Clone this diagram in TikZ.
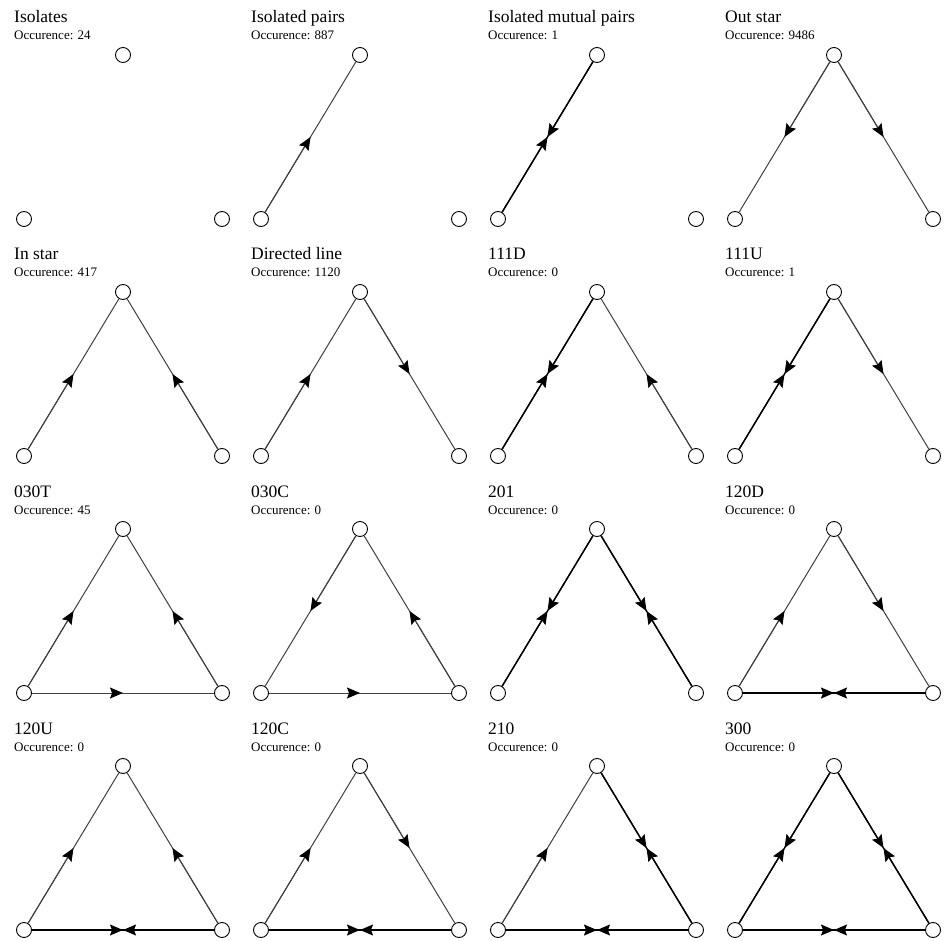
\documentclass[tikz,border=0pt]{standalone}
\usepackage{fontspec}
\setmainfont{Liberation Serif}
\usepackage{tikz}
\usetikzlibrary{calc}
\usetikzlibrary{arrows.meta}

\tikzset{
	vertex/.style={circle, draw, fill=white, line width=0.9pt, minimum size=15pt, inner sep=0pt},
	edgeline/.style={draw=black!75, line width=1pt},
	mutualline/.style={draw=black, line width=1.3pt},
	tip/.style={-{Stealth[length=13pt, width=11pt, inset=2pt, black]}},
	paneltitle/.style={anchor=base west, inner sep=0pt, font=\fontsize{17.5}{20}\selectfont},
	panelcount/.style={anchor=base west, inner sep=0pt, font=\fontsize{13}{15}\selectfont}
}

% one triad: prefix, x shift, y shift, title, occurence
\newcommand{\triad}[5]{%
	\begin{scope}[shift={(#2,#3)}, name prefix=#1-]
		\node[vertex] (T) at (123,-55) {};
		\node[vertex] (L) at (24,-219) {};
		\node[vertex] (R) at (222,-219) {};
		\node[paneltitle] (name) at (14,-23) {#4};
		\node[panelcount] (occ) at (14,-40) {Occurence: #5};
	\end{scope}}

\newcommand{\oneway}[2]{%
	\draw[edgeline] (#1) -- (#2);
	\draw[edgeline, tip] (#1) -- ($(#1)!0.5!(#2)$);}

\newcommand{\mutual}[2]{%
	\draw[mutualline] (#1) -- (#2);
	\draw[mutualline, tip] (#1) -- ($(#1)!0.5!(#2)$);
	\draw[mutualline, tip] (#2) -- ($(#1)!0.5!(#2)$);}

\begin{document}
\begin{tikzpicture}[x=1pt, y=1pt]
	\useasboundingbox (0,0) rectangle (951,-941);

	\triad{p1}{0}{0}{Isolates}{24}
	\triad{p2}{237}{0}{Isolated pairs}{887}
	\triad{p3}{474}{0}{Isolated mutual pairs}{1}
	\triad{p4}{711}{0}{Out star}{9486}

	\triad{p5}{0}{-237}{In star}{417}
	\triad{p6}{237}{-237}{Directed line}{1120}
	\triad{p7}{474}{-237}{111D}{0}
	\triad{p8}{711}{-237}{111U}{1}

	\triad{p9}{0}{-474}{030T}{45}
	\triad{p10}{237}{-474}{030C}{0}
	\triad{p11}{474}{-474}{201}{0}
	\triad{p12}{711}{-474}{120D}{0}

	\triad{p13}{0}{-711}{120U}{0}
	\triad{p14}{237}{-711}{120C}{0}
	\triad{p15}{474}{-711}{210}{0}
	\triad{p16}{711}{-711}{300}{0}

	% row 1
	\oneway{p2-L}{p2-T}
	\mutual{p3-L}{p3-T}
	\oneway{p4-T}{p4-L}
	\oneway{p4-T}{p4-R}

	% row 2
	\oneway{p5-L}{p5-T}
	\oneway{p5-R}{p5-T}
	\oneway{p6-L}{p6-T}
	\oneway{p6-T}{p6-R}
	\mutual{p7-L}{p7-T}
	\oneway{p7-R}{p7-T}
	\mutual{p8-L}{p8-T}
	\oneway{p8-T}{p8-R}

	% row 3
	\oneway{p9-L}{p9-T}
	\oneway{p9-R}{p9-T}
	\oneway{p9-L}{p9-R}
	\oneway{p10-T}{p10-L}
	\oneway{p10-R}{p10-T}
	\oneway{p10-L}{p10-R}
	\mutual{p11-L}{p11-T}
	\mutual{p11-T}{p11-R}
	\oneway{p12-L}{p12-T}
	\oneway{p12-T}{p12-R}
	\mutual{p12-L}{p12-R}

	% row 4
	\oneway{p13-L}{p13-T}
	\oneway{p13-R}{p13-T}
	\mutual{p13-L}{p13-R}
	\oneway{p14-L}{p14-T}
	\oneway{p14-T}{p14-R}
	\mutual{p14-L}{p14-R}
	\oneway{p15-L}{p15-T}
	\mutual{p15-T}{p15-R}
	\mutual{p15-L}{p15-R}
	\mutual{p16-L}{p16-T}
	\mutual{p16-T}{p16-R}
	\mutual{p16-L}{p16-R}
\end{tikzpicture}
\end{document}
